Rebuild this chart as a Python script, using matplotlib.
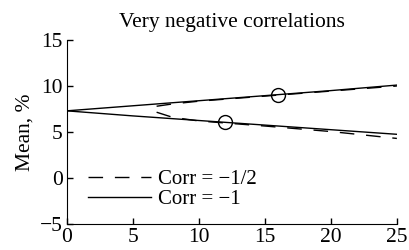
import matplotlib
matplotlib.use("Agg")
import matplotlib.pyplot as plt

plt.rcParams['font.family'] = ['Liberation Serif', 'DejaVu Serif']

title = "Very negative correlations"
ylabel = "Mean, %"
labels = ["Corr = \u22121/2", "Corr = \u22121"]

x_solid = [0, 5, 10, 15, 20, 25]
y_solid_up = [7.3, 7.85, 8.4, 8.95, 9.5, 10.1]
y_solid_lo = [7.3, 6.75, 6.25, 5.75, 5.25, 4.75]

x_dash = [6.8, 8, 10, 15, 20, 25]
y_dash_up = [7.8, 8.05, 8.35, 8.9, 9.45, 10.0]
y_dash_lo = [7.15, 6.6, 6.2, 5.65, 5.05, 4.3]

marker_x = [16, 12]
marker_y = [9.0, 6.05]

xticks = [0, 5, 10, 15, 20, 25]
yticks = [-5, 0, 5, 10, 15]

FS = 15.5

fig = plt.figure(figsize=(4.1, 2.5), dpi=100)
ax = fig.add_axes([0.163, 0.104, 0.805, 0.736])

dash_style = (0, (10.5, 8.5))
l1, = ax.plot(x_dash, y_dash_up, color='black', lw=1.0, linestyle=dash_style)
ax.plot(x_dash, y_dash_lo, color='black', lw=1.0, linestyle=dash_style)
l2, = ax.plot(x_solid, y_solid_up, color='black', lw=1.0)
ax.plot(x_solid, y_solid_lo, color='black', lw=1.0)
ax.plot(marker_x, marker_y, linestyle='none', marker='o', markersize=10,
        markerfacecolor='none', markeredgecolor='black', markeredgewidth=1.0)

ax.set_xlim(0, 25)
ax.set_ylim(-5, 15)
ax.set_xticks(xticks)
ax.set_yticks(yticks)
ax.set_yticklabels([str(v).replace('-', '\u2212') for v in yticks])
ax.tick_params(direction='in', length=4, width=1, labelsize=FS, pad=3)
for s in ['top', 'right']:
    ax.spines[s].set_visible(False)
ax.set_title(title, fontsize=FS, pad=9)
ax.set_ylabel(ylabel, fontsize=FS, labelpad=4)

ax.legend([l1, l2], labels, loc='upper left', bbox_to_anchor=(0.04, 0.34),
          frameon=False, fontsize=15, handlelength=3.0, handletextpad=0.33,
          labelspacing=0.0, borderaxespad=0.0)

fig.savefig("out.png", dpi=100)
